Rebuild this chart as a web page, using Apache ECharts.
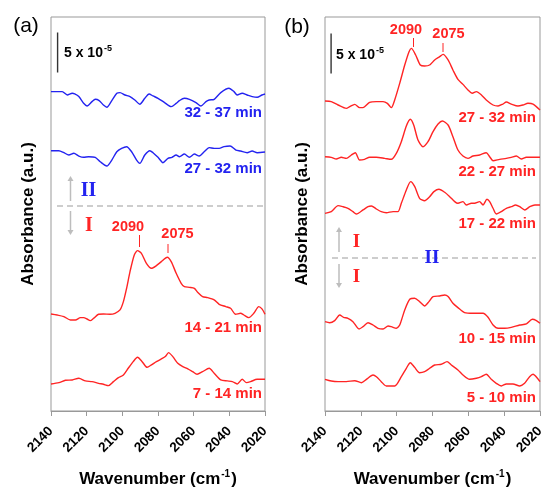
<!DOCTYPE html>
<html><head><meta charset="utf-8">
<script src="https://cdn.jsdelivr.net/npm/echarts@6/dist/echarts.min.js"></script>
<style>html,body{margin:0;padding:0;background:#fff}#c{width:543px;height:489px}</style>
</head><body><div id="c"></div>
<script>
// x ticks (cm-1), reversed axis
const xTicks = [2140, 2120, 2100, 2080, 2060, 2040, 2020];
// absorbance values in units of 1e-6, relative to each trace's start
const labelsA = ['32 - 37 min', '27 - 32 min', '14 - 21 min', '7 - 14 min'];
const labelsB = ['27 - 32 min', '22 - 27 min', '17 - 22 min', '10 - 15 min', '5 - 10 min'];
const offsetsA = [398.8, 325.4, 121.3, 33.8];
const offsetsB = [387.5, 317.9, 247.1, 111.7, 39.6];
const peaks = [2090, 2075];
const scaleBar = 50; // 5 x 10^-5 in 1e-6 units

const wnA1 = [2140,2133.7,2130.9,2128.1,2126.7,2124.4,2121.7,2119.8,2117.0,2115.2,2113.0,2110.6,2108.7,2105.9,2103.1,2101.3,2098.5,2095.7,2093.0,2090.2,2087.4,2085.0,2082.8,2080.0,2076.3,2072.6,2069.8,2068.0,2065.2,2062.4,2058.7,2055.9,2053.1,2051.3,2048.5,2044.8,2040.2,2037.4,2035.6,2032.8,2030.0,2027.2,2024.4,2021.7,2020];
const absA1 = [0.4,0.4,-3.8,-1.7,-2.5,-5.8,-14.2,-17.5,-12.1,-9.2,-10.8,-16.3,-19.2,-10.8,-1.7,-0.8,-3.8,-5.8,-10,-15.4,-7.9,-2.5,-5,-7.9,-13.3,-18.3,-14.2,-10.8,-7.9,-9.2,-13.3,-17.5,-12.1,-10,-9.2,-0.8,4.6,0.4,-3.8,-1.7,-3.8,-5.8,-6.7,-3.8,-2.5];
const wnA2 = [2140,2135.6,2132.8,2130.0,2127.2,2124.4,2121.7,2118.9,2115.2,2112.4,2108.7,2105.9,2103.1,2100.4,2097.6,2094.8,2092.0,2090.2,2087.4,2084.6,2082.8,2080.0,2077.2,2074.4,2072.2,2069.8,2068.0,2065.2,2062.4,2059.6,2056.9,2054.1,2051.3,2048.5,2045.7,2043.0,2039.6,2036.3,2033.7,2030.0,2027.2,2024.4,2020];
const absA2 = [0,0,-2.5,-5.4,-3.3,-6.7,-8.3,-7.5,-8.3,-13.8,-19.2,-11.7,-1.3,2.9,5,-1.3,-11.7,-15.8,-5.4,0,-2.5,-8.3,-15,-9.6,-8.3,-5.4,-7.5,-4.2,-8.3,-4.2,-6.7,-1.3,3.8,2.9,2.9,5,5.8,0.8,-0.4,-2.5,-0.4,-2.5,-1.7];
const wnA3 = [2140,2136.5,2132.8,2129.1,2126.3,2123.5,2121.7,2119.8,2118.0,2116.1,2113.3,2110.6,2106.9,2104.1,2101.3,2099.4,2097.6,2095.7,2093.3,2091.5,2089.3,2086.5,2083.7,2080.9,2078.1,2074.8,2072.6,2069.8,2067.0,2065.2,2062.4,2059.6,2057.8,2055.0,2052.2,2048.5,2045.7,2042.0,2039.3,2036.5,2033.7,2031.9,2029.1,2026.3,2023.5,2021.7,2020];
const absA3 = [0,-1.3,-3.3,-7.5,-7.5,-4.6,-4.6,-6.3,-8.3,-5.4,-0.4,0,-0.4,0.8,5,15.4,32.1,52.9,73.8,79.2,75.8,63.3,57.1,60.4,65.4,70.8,65.4,50.8,38.3,34.2,33.3,32.1,27.1,21.7,20.4,17.5,12.1,9.2,7.1,-0.4,0.8,-1.3,-4.6,0.8,9.2,6.3,-0.4];
const wnA4 = [2140,2135.6,2131.9,2128.1,2124.4,2120.7,2117.0,2113.3,2110.6,2107.8,2105.0,2102.2,2099.4,2096.7,2093.9,2091.5,2088.9,2086.1,2083.7,2080.9,2078.1,2075.9,2074.1,2071.7,2068.9,2066.1,2063.3,2060.6,2058.1,2055.0,2051.3,2048.5,2044.8,2041.1,2038.3,2035.6,2032.8,2030.4,2028.1,2024.4,2020];
const absA4 = [0,1.7,4.6,5,7.1,3.8,2.9,0.8,-0.4,-2.1,2.9,7.9,11.3,19.6,27.9,33.3,27.9,20.8,23.8,27.9,31.3,34.2,39.2,34.2,25.8,21.7,18.8,15.4,12.1,15.4,19.6,13.3,5,3.8,2.9,0,5.8,1.7,2.9,5.8,5.8];

const wnB1 = [2140,2136.5,2132.7,2128.1,2126.2,2123.4,2120.7,2118.8,2115.1,2111.4,2107.6,2105.2,2103.0,2101.1,2098.3,2095.5,2093.1,2091.8,2089.4,2086.8,2084.4,2081.6,2078.8,2076.0,2074.1,2071.3,2068.6,2065.8,2063.0,2060.2,2057.8,2055.5,2052.7,2050.0,2046.2,2043.4,2040.7,2038.8,2036.0,2032.3,2029.5,2026.7,2023.9,2020];
const absB1 = [0,-0.8,-5,-9.2,-7.1,-4.2,-8.3,-8.3,-1.7,-0.8,-0.8,-2.9,-8.3,1.3,22.1,45,61.7,65.8,57.5,45,43.8,45,51.3,55.4,58.3,51.3,38.8,27.1,20.8,13.8,9.6,11.7,7.5,1.3,-5,-6.3,-3.8,-1.3,-3.8,-6.3,-5,-2.9,-3.8,-11.3];
const wnB2 = [2140,2136.5,2133.7,2130.9,2128.1,2125.3,2123.1,2120.7,2117.9,2115.1,2111.4,2106.7,2103.0,2100.2,2097.4,2094.6,2092.4,2090.5,2088.1,2085.3,2082.5,2079.7,2076.9,2074.5,2071.3,2068.6,2065.8,2063.0,2060.2,2057.4,2053.7,2050.0,2048.1,2046.2,2042.5,2038.8,2036.0,2033.2,2030.4,2027.6,2023.9,2020];
const absB2 = [0,-0.8,-2.9,-0.8,-2.1,2.1,5,-4.2,-3.3,-0.8,-0.8,-2.1,-3.3,4.2,18.8,38.3,46.7,39.6,20.8,12.5,18.8,31.3,40.8,44.6,39.6,25,8.3,0.8,-2.1,0.8,2.1,5,0,-5,-3.3,-2.1,-0.8,0.8,-2.9,-0.8,-0.8,-0.8];
const wnB3 = [2140,2136.5,2132.7,2130.0,2127.2,2124.4,2122.5,2118.8,2116.0,2114.1,2111.3,2108.6,2105.8,2102.0,2099.3,2097.4,2094.6,2092.2,2089.9,2087.2,2084.4,2081.6,2079.2,2076.4,2073.2,2070.4,2067.6,2065.8,2063.0,2061.1,2058.3,2056.5,2053.7,2051.8,2049.6,2048.1,2046.2,2044.4,2041.6,2038.8,2036.0,2033.6,2031.3,2028.5,2025.7,2022.8,2020];
const absB3 = [0,2.1,9.6,8.3,6.3,2.1,-0.8,4.2,8.3,9.2,5.4,2.1,0.8,2.1,2.1,12.5,29.2,39.6,33.3,18.8,15.8,20.8,27.1,30,26.3,20.8,14.6,12.5,14.6,10.4,12.5,12.5,14.6,10.4,17.5,14.6,6.3,-0.8,2.1,6.3,8.3,10.4,8.3,4.2,8.3,10.4,10.4];
const wnB4 = [2140,2137.4,2134.6,2131.8,2129.6,2127.2,2124.4,2121.0,2118.8,2116.0,2113.2,2110.4,2107.6,2104.8,2103.0,2100.2,2098.3,2095.5,2092.7,2090.0,2087.2,2084.4,2082.0,2079.7,2076.0,2073.2,2071.3,2068.6,2065.8,2062.1,2057.4,2051.8,2049.0,2046.2,2043.4,2039.7,2036.0,2031.3,2027.6,2024.3,2022.0,2020];
const absB4 = [0,-1.3,1.3,8.3,5.4,4.2,0,-9.2,-6.3,-1.3,-4.2,-8.3,-9.2,-5.4,-6.3,-8.3,-4.2,14.6,27.9,29.2,25,19.6,25,31.3,32.1,33.3,31.3,22.9,17.5,11.3,10.4,10.4,5.4,-4.2,-8.3,-8.3,-7.1,-4.2,-2.9,2.9,1.3,-2.1];
const wnB5 = [2140,2136.5,2132.7,2128.1,2123.4,2119.7,2116.9,2113.2,2111.3,2108.6,2105.8,2101.1,2097.4,2094.6,2092.4,2090.0,2087.2,2084.4,2081.6,2078.8,2075.1,2071.9,2069.5,2065.8,2063.0,2059.3,2055.5,2052.7,2050.0,2047.2,2044.4,2041.6,2038.8,2035.1,2031.3,2028.6,2025.8,2023.9,2021.1,2020];
const absB5 = [0,-2.1,-2.9,-2.9,-1.7,-4.2,0,5.4,3.3,-2.9,-8.3,-8.3,3.3,13.8,20.8,15,8.3,9.6,13.8,17.9,18.8,22.1,17.9,11.7,5.4,0,1.3,3.3,6.3,0,-5,-8.3,-5.8,-5.8,-8.3,-5,3.3,6.3,0.4,-2.9];

const RED = '#ff2424', BLUE = '#2323f0', GRAY = '#999999', LGRAY = '#bdbdbd';
const SANS = '"Liberation Sans", Arial, sans-serif';
const SERIF = '"Liberation Serif", "Times New Roman", serif';

function trace(wn, ab, off) {
  const n = Math.min(wn.length, ab.length);
  const d = [];
  for (let i = 0; i < n; i++) d.push([wn[i], off + ab[i]]);
  return d;
}
function lineSeries(idx, data, color) {
  return { type: 'line', xAxisIndex: idx, yAxisIndex: idx, data: data, showSymbol: false,
    smooth: 0.25, lineStyle: { color: color, width: 1.4 }, silent: true, animation: false, z: 3 };
}
const seriesA = [[wnA1, absA1], [wnA2, absA2], [wnA3, absA3], [wnA4, absA4]];
const seriesB = [[wnB1, absB1], [wnB2, absB2], [wnB3, absB3], [wnB4, absB4], [wnB5, absB5]];
const colorsA = [BLUE, BLUE, RED, RED];
const colorsB = [RED, RED, RED, RED, RED];

const series = [];
seriesA.forEach((s, i) => series.push(lineSeries(0, trace(s[0], s[1], offsetsA[i]), colorsA[i])));
seriesB.forEach((s, i) => series.push(lineSeries(1, trace(s[0], s[1], offsetsB[i]), colorsB[i])));
// scale bars
series.push({ type: 'line', xAxisIndex: 0, yAxisIndex: 0, showSymbol: false, silent: true, animation: false,
  data: [[2136.3, 423], [2136.3, 423 + scaleBar]], lineStyle: { color: '#333', width: 1.4 } });
series.push({ type: 'line', xAxisIndex: 1, yAxisIndex: 1, showSymbol: false, silent: true, animation: false,
  data: [[2136.6, 422], [2136.6, 422 + scaleBar]], lineStyle: { color: '#333', width: 1.4 } });

function xAxis(gi) {
  return { type: 'value', gridIndex: gi, inverse: true, min: xTicks[xTicks.length - 1], max: xTicks[0], interval: 20,
    axisLine: { lineStyle: { color: GRAY, width: 1 } },
    axisTick: { inside: false, length: 5, lineStyle: { color: GRAY } },
    axisLabel: { rotate: 45, margin: 18, color: '#000', fontFamily: SANS, fontWeight: 'bold', fontSize: 13.5,
      formatter: function (v) { return String(v); } },
    splitLine: { show: false },
    name: '{a|Wavenumber (cm}{s|-1}{a|)}', nameLocation: 'middle', nameGap: 58,
    nameTextStyle: { rich: {
      a: { fontFamily: SANS, fontWeight: 'bold', fontSize: 17, color: '#000', lineHeight: 20 },
      s: { fontFamily: SANS, fontWeight: 'bold', fontSize: 10, color: '#000', verticalAlign: 'top', lineHeight: 20, padding: [0, 1, 8, 1] } } } };
}
function yAxis(gi) {
  return { type: 'value', gridIndex: gi, min: 0, max: 492.5,
    axisLine: { show: false }, axisTick: { show: false }, axisLabel: { show: false }, splitLine: { show: false },
    name: 'Absorbance (a.u.)', nameLocation: 'middle', nameGap: 14,
    nameTextStyle: { fontFamily: SANS, fontWeight: 'bold', fontSize: 17, color: '#000' } };
}

function txt(x, y, t, color, size, align, font, weight) {
  return { type: 'text', silent: true, z: 10, style: { x: x, y: y, text: t, fill: color,
    font: (weight || 'bold') + ' ' + size + 'px ' + (font || SANS), align: align || 'center', verticalAlign: 'middle' } };
}
function seg(x1, y1, x2, y2, color, dash, w) {
  return { type: 'line', silent: true, z: 10, shape: { x1: x1, y1: y1, x2: x2, y2: y2 },
    style: { stroke: color, lineWidth: w || 1, lineDash: dash || null } };
}
function arrow(x, y1, y2) { // from y1 to y2 with head at y2
  const dir = y2 < y1 ? -1 : 1;
  return [seg(x, y1, x, y2 - dir * 4, LGRAY, null, 1.5),
    { type: 'polygon', silent: true, z: 10, shape: { points: [[x - 3, y2 - dir * 5], [x + 3, y2 - dir * 5], [x, y2]] }, style: { fill: LGRAY } }];
}
function sbText(x, y) {
  return [
    { type: 'text', silent: true, z: 10, style: { x: x, y: y, text: '5 x 10', fill: '#000', font: 'bold 14px ' + SANS, align: 'left', verticalAlign: 'middle' } },
    { type: 'text', silent: true, z: 10, style: { x: x + 40, y: y - 5, text: '-5', fill: '#000', font: 'bold 9px ' + SANS, align: 'left', verticalAlign: 'middle' } }
  ];
}

const graphic = [
  txt(26, 26, '(a)', '#000', 21, 'center', SANS, 'normal'),
  txt(297, 27, '(b)', '#000', 21, 'center', SANS, 'normal'),
  ...sbText(64, 53.5), ...sbText(336, 55.5),
  // panel a labels
  txt(262, 113, labelsA[0], BLUE, 15, 'right'),
  txt(262, 168.5, labelsA[1], BLUE, 15, 'right'),
  txt(262, 328, labelsA[2], RED, 15, 'right'),
  txt(262, 393.5, labelsA[3], RED, 15, 'right'),
  seg(57, 206, 263, 206, LGRAY, [6, 4], 1.5),
  ...arrow(70.5, 201, 176),
  ...arrow(70.5, 211, 235),
  txt(88.5, 191, 'II', BLUE, 20, 'center', SERIF),
  txt(89, 225.5, 'I', RED, 20, 'center', SERIF),
  txt(128, 227, String(peaks[0]), RED, 14.5),
  txt(177.5, 233.5, String(peaks[1]), RED, 14.5),
  seg(139.5, 235, 139.5, 247, RED, null, 1),
  seg(168, 244, 168, 253, RED, null, 1),
  // panel b labels
  txt(536, 117.5, labelsB[0], RED, 15, 'right'),
  txt(536, 172, labelsB[1], RED, 15, 'right'),
  txt(536, 224, labelsB[2], RED, 15, 'right'),
  txt(536, 338.5, labelsB[3], RED, 15, 'right'),
  txt(536, 397.5, labelsB[4], RED, 15, 'right'),
  seg(332, 258, 536, 258, LGRAY, [6, 4], 1.5),
  ...arrow(339, 252, 227),
  ...arrow(339, 264, 288),
  txt(356.5, 242.5, 'I', RED, 19, 'center', SERIF),
  txt(356.5, 277, 'I', RED, 19, 'center', SERIF),
  txt(432, 258.5, 'II', BLUE, 19, 'center', SERIF),
  txt(406, 30, String(peaks[0]), RED, 14.5),
  txt(448.5, 33.5, String(peaks[1]), RED, 14.5),
  seg(413.5, 38, 413.5, 47, RED, null, 1),
  seg(443, 43, 443, 52, RED, null, 1)
];

const chart = echarts.init(document.getElementById('c'), null, { renderer: 'canvas' });
chart.setOption({
  animation: false,
  backgroundColor: '#fff',
  grid: [
    { left: 51, top: 17, width: 214, height: 394, show: true, borderColor: GRAY, borderWidth: 1, containLabel: false, outerBoundsMode: 'none' },
    { left: 325, top: 17, width: 215, height: 394, show: true, borderColor: GRAY, borderWidth: 1, containLabel: false, outerBoundsMode: 'none' }
  ],
  xAxis: [xAxis(0), xAxis(1)],
  yAxis: [yAxis(0), yAxis(1)],
  series: series,
  graphic: graphic
});
</script></body></html>
